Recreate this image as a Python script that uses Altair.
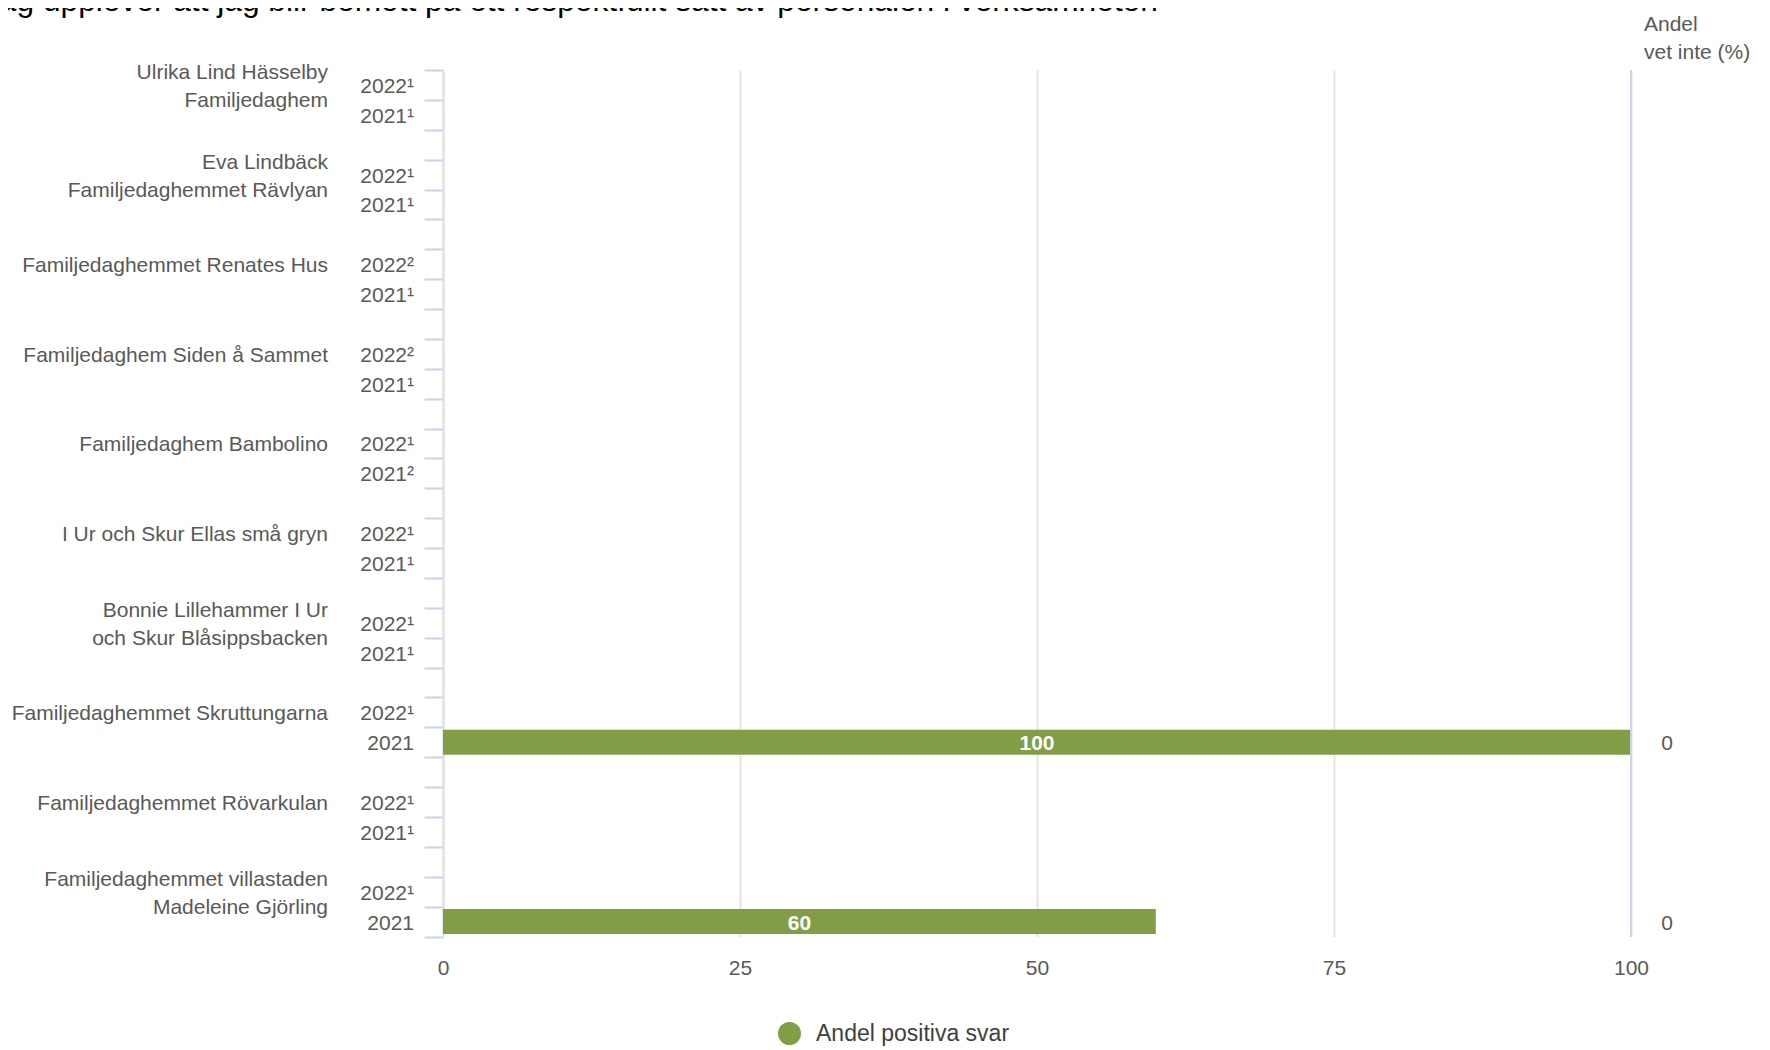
import altair as alt
import pandas as pd

# ---------------- data ----------------
title_text = "Jag upplever att jag blir bemött på ett respektfullt sätt av personalen i verksamheten"
header_text = "Andel\nvet inte (%)"
series_name = "Andel positiva svar"

groups = [
    "Ulrika Lind Hässelby\nFamiljedaghem",
    "Eva Lindbäck\nFamiljedaghemmet Rävlyan",
    "Familjedaghemmet Renates Hus",
    "Familjedaghem Siden å Sammet",
    "Familjedaghem Bambolino",
    "I Ur och Skur Ellas små gryn",
    "Bonnie Lillehammer I Ur\noch Skur Blåsippsbacken",
    "Familjedaghemmet Skruttungarna",
    "Familjedaghemmet Rövarkulan",
    "Familjedaghemmet villastaden\nMadeleine Gjörling",
]
labels_2022 = ["2022¹", "2022¹", "2022²", "2022²", "2022¹", "2022¹", "2022¹", "2022¹", "2022¹", "2022¹"]
labels_2021 = ["2021¹", "2021¹", "2021¹", "2021¹", "2021²", "2021¹", "2021¹", "2021", "2021¹", "2021"]
positive_2022 = [None, None, None, None, None, None, None, None, None, None]
positive_2021 = [None, None, None, None, None, None, None, 100, None, 60]
vet_inte_2022 = [None, None, None, None, None, None, None, None, None, None]
vet_inte_2021 = [None, None, None, None, None, None, None, 0, None, 0]
x_ticks = [0, 25, 50, 75, 100]

# ---------------- table ----------------
rows = []
group_rows = []
k = 0
for i, g in enumerate(groups):
    key22 = f"r{k:02d}"
    rows.append(dict(key=key22, year=labels_2022[i], pos=positive_2022[i], vet=vet_inte_2022[i], serie=series_name))
    group_rows.append(dict(key=key22, group=g, nlines=g.count("\n") + 1))
    k += 1
    rows.append(dict(key=f"r{k:02d}", year=labels_2021[i], pos=positive_2021[i], vet=vet_inte_2021[i], serie=series_name))
    k += 1
    if i < len(groups) - 1:
        rows.append(dict(key=f"r{k:02d}", year="", pos=None, vet=None, serie=series_name))
        k += 1
df = pd.DataFrame(rows)
gdf = pd.DataFrame(group_rows)
keys = list(df["key"])

FONT = "Liberation Sans"
GREY = "#595959"
GREEN = "#819d45"

xs = alt.Scale(domain=[0, 100], nice=False, zero=True)
ys = alt.Scale(domain=keys, type="band", paddingInner=0, paddingOuter=0)

xaxis = alt.Axis(values=x_ticks, grid=True, gridColor="#e4e4e4", gridWidth=2,
                 domain=False, ticks=False, labelFontSize=21, labelColor=GREY,
                 labelFont=FONT, labelPadding=21, labelFlush=False, title=None)
yaxis = alt.Axis(labels=False, title=None, domain=True, domainColor="#e0e0e0",
                 domainWidth=2, ticks=True, tickColor="#c8d3ea", tickWidth=2,
                 tickSize=19, tickBand="extent", grid=False)

Y = alt.Y("key:N", scale=ys, axis=yaxis, sort=None)

bars = alt.Chart(df).transform_filter("isValid(datum.pos)").mark_bar(
    height=alt.RelativeBandSize(0.84)
).encode(
    x=alt.X("pos:Q", scale=xs, axis=xaxis),
    y=Y,
    color=alt.Color("serie:N", scale=alt.Scale(domain=[series_name], range=[GREEN]),
                    legend=alt.Legend(orient="none", legendX=335, legendY=952, title=None,
                                      symbolType="circle", symbolSize=529, symbolOpacity=1,
                                      symbolStrokeWidth=0, labelLimit=600,
                                      labelFontSize=23, labelFont=FONT, labelColor="#404040",
                                      labelOffset=15, padding=0)),
)

bar_labels = alt.Chart(df).transform_filter("isValid(datum.pos)").transform_calculate(
    mid="datum.pos / 2"
).mark_text(color="white", fontWeight="bold", fontSize=21, font=FONT, baseline="middle",
            dy=2).encode(
    x=alt.X("mid:Q", scale=xs, axis=xaxis),
    y=Y,
    text=alt.Text("pos:Q"),
)

end_rule = alt.Chart(df).mark_rule(color="#ccd5ea", strokeWidth=2).encode(
    x=alt.X(datum=100, type="quantitative", scale=xs, axis=xaxis)
)

year_labels = alt.Chart(df).mark_text(align="right", baseline="middle", fontSize=21,
                                      font=FONT, color=GREY, dy=2).encode(
    x=alt.value(-29), y=Y, text="year:N"
)

group_labels_1 = alt.Chart(gdf).transform_filter("datum.nlines == 1").mark_text(
    align="right", baseline="middle", fontSize=21, font=FONT, color=GREY, dy=2
).encode(x=alt.value(-115), y=Y, text="group:N")

group_labels_2 = alt.Chart(gdf).transform_filter("datum.nlines == 2").mark_text(
    align="right", baseline="middle", fontSize=21, font=FONT, color=GREY,
    lineBreak="\n", lineHeight=28, dy=-12
).encode(x=alt.value(-115), y=Y, text="group:N")

vet_labels = alt.Chart(df).transform_filter("isValid(datum.vet)").mark_text(
    align="center", baseline="middle", fontSize=21, font=FONT, color=GREY, dy=2
).encode(x=alt.value(1224), y=Y, text=alt.Text("vet:Q"))

header = alt.Chart(pd.DataFrame({"t": [header_text]})).mark_text(
    align="left", baseline="middle", fontSize=21, font=FONT, color=GREY,
    lineBreak="\n", lineHeight=28
).encode(x=alt.value(1201), y=alt.value(-45), text="t:N")

title = alt.Chart(pd.DataFrame({"t": [title_text]})).mark_text(
    align="left", baseline="alphabetic", fontSize=31.7, font=FONT, color="#000000"
).encode(x=alt.value(-460), y=alt.value(-59), text="t:N")

chart = alt.layer(
    bars, bar_labels, end_rule, year_labels, group_labels_1, group_labels_2,
    vet_labels, header, title
).properties(
    width=1188, height=866.5,
    padding={"left": 435, "top": 62, "right": 131, "bottom": 110},
    autosize=alt.AutoSizeParams(type="none"),
).configure_view(stroke=None)

chart.save("out.html", embed_options={"renderer": "svg", "actions": False})
